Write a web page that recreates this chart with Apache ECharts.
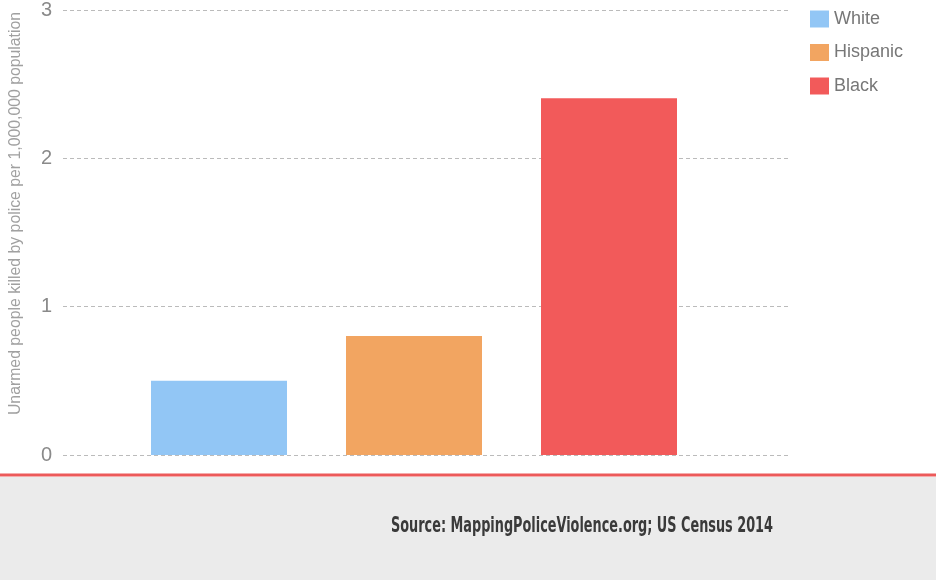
<!DOCTYPE html>
<html>
<head>
<meta charset="utf-8">
<script src="https://cdn.jsdelivr.net/npm/echarts@6/dist/echarts.min.js"></script>
<style>
html,body{margin:0;padding:0;background:#fff;}
#chart{width:936px;height:580px;}
</style>
</head>
<body>
<div id="chart"></div>
<script>
const categories = ['White', 'Hispanic', 'Black'];
const seriesNames = ['White', 'Hispanic', 'Black'];
const seriesValues = [0.5, 0.8, 2.4];
const colors = ['#92c6f5', '#f2a561', '#f25a5a'];
const yTicks = [0, 1, 2, 3];
const yAxisName = 'Unarmed people killed by police per 1,000,000 population';
const sourceText = 'Source: MappingPoliceViolence.org; US Census 2014';

const chart = echarts.init(document.getElementById('chart'));

const srcFont = 'bold 22px "DejaVu Sans Condensed", sans-serif';
const ctx = document.createElement('canvas').getContext('2d');
ctx.font = srcFont;
const srcScale = 382 / ctx.measureText(sourceText).width;

const series = seriesNames.map((name, i) => ({
  name: name,
  type: 'bar',
  xAxisIndex: 1,
  yAxisIndex: 1,
  barWidth: 136,
  barGap: '-100%',
  itemStyle: { color: colors[i] },
  data: categories.map((c, j) => (j === i ? seriesValues[i] : null))
}));

chart.setOption({
  animation: false,
  backgroundColor: '#fff',
  legend: {
    orient: 'vertical',
    left: 805,
    top: 5,
    itemWidth: 19,
    itemHeight: 17,
    itemGap: 15.5,
    icon: 'rect',
    textStyle: { color: '#777', fontSize: 18, fontFamily: 'Liberation Sans' },
    data: seriesNames
  },
  grid: [
    { left: 59, right: 146, top: 9, bottom: 125 },
    { left: 121.5, right: 229.5, top: 9, bottom: 125 }
  ],
  xAxis: [
    { type: 'category', gridIndex: 0, data: [''], show: false },
    { type: 'category', gridIndex: 1, data: categories, show: false }
  ],
  yAxis: [
    {
      type: 'value', gridIndex: 0, min: 0, max: yTicks[yTicks.length - 1], interval: 1,
      name: yAxisName,
      nameLocation: 'middle',
      nameRotate: 90,
      nameGap: 39,
      nameTextStyle: { color: '#a0a0a0', fontSize: 15.8, fontFamily: 'Liberation Sans', padding: [0, 0, 0, 38] },
      axisLine: { show: false },
      axisTick: { show: false },
      axisLabel: { color: '#8a8a8a', fontSize: 20, fontFamily: 'Liberation Sans', margin: 11 },
      splitLine: { show: true, lineStyle: { color: '#bbb', type: [4, 3], width: 1 } }
    },
    {
      type: 'value', gridIndex: 1, min: 0, max: yTicks[yTicks.length - 1], interval: 1, show: false
    }
  ],
  series: series,
  graphic: [
    { type: 'rect', left: 0, top: 477, shape: { width: 936, height: 103 }, style: { fill: '#ebebeb' }, z: -1 },
    { type: 'rect', left: 0, top: 473.5, shape: { width: 936, height: 3 }, style: { fill: '#ec5a5a' } },
    {
      type: 'text', x: 391, y: 515, scaleX: srcScale,
      style: { text: sourceText, fill: '#3a3a3a', font: srcFont }
    }
  ]
});
</script>
</body>
</html>
